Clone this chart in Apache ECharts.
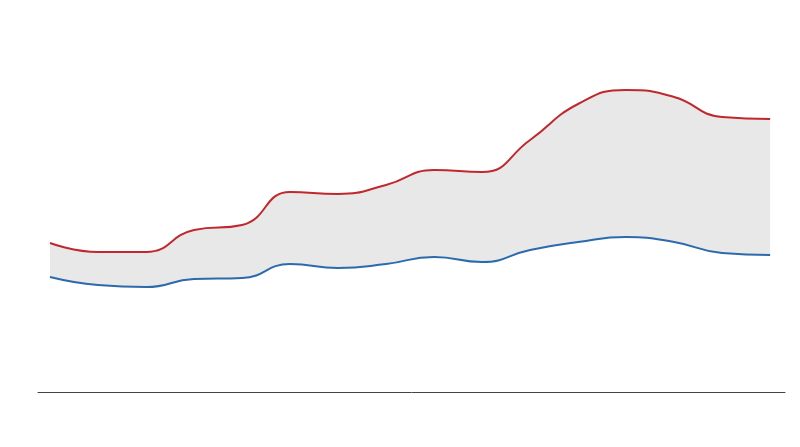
<!DOCTYPE html>
<html><head><meta charset="utf-8">
<script src="https://cdn.jsdelivr.net/npm/echarts@6/dist/echarts.min.js"></script>
<style>html,body{margin:0;padding:0;background:#fff}#c{width:800px;height:447px}</style>
</head><body><div id="c"></div>
<script>
const idx = [0,1,2,3,4,5,6,7,8,9,10,11,12,13,14,15];
const upper = [149,140,140,162,167,200,198,207,222,220,252,288,302,295,275,273];
const lower = [115,107,105,113,114,128,124,128,135,130,142,150,155,150,139,137];
const chart = echarts.init(document.getElementById('c'));
const pair = a => a.map((v,i)=>[idx[i],v]);
chart.setOption({
  animation:false,
  grid:{left:38,right:15,top:0,bottom:55},
  xAxis:{type:'value',min:-0.25,max:15.31,z:10,axisLine:{show:true,onZero:false,lineStyle:{color:'#444'}},axisTick:{show:false},axisLabel:{show:false},splitLine:{show:false}},
  yAxis:{type:'value',min:0,max:392,show:false,splitLine:{show:false}},
  series:[
    {type:'line',data:pair(upper),smooth:true,symbol:'none',lineStyle:{color:'#c0282d',width:2},areaStyle:{color:'#e8e8e8',opacity:1},z:2},
    {type:'line',data:pair(lower),smooth:true,symbol:'none',lineStyle:{color:'#2a6aad',width:2},areaStyle:{color:'#ffffff',opacity:1},z:3}
  ]
});
</script></body></html>
